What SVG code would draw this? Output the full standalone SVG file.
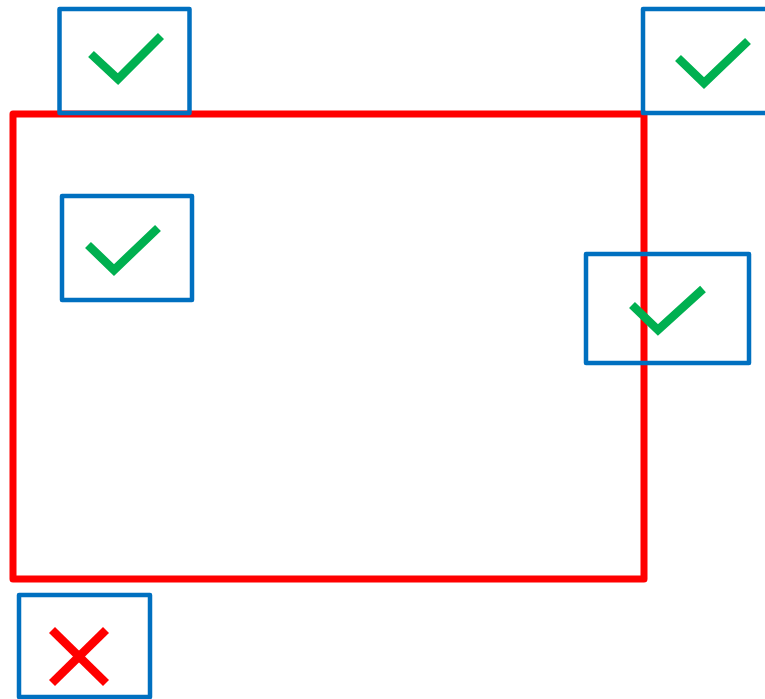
<svg xmlns="http://www.w3.org/2000/svg" width="765" height="699" viewBox="0 0 765 699">
<style>
.frame{fill:none;stroke:#FF0000;stroke-width:7;stroke-linejoin:round}
.box{fill:none;stroke:#0070C0;stroke-width:4.5;stroke-linejoin:round}
.ok{fill:none;stroke:#00B050;stroke-width:8.5;stroke-linejoin:miter;stroke-linecap:butt}
.no{fill:none;stroke:#FF0000;stroke-width:8.5;stroke-linecap:butt}
</style>
<rect width="765" height="699" fill="#FFFFFF"/>
<g id="region"><rect class="frame" x="13" y="114" width="631" height="465"/></g>
<g id="connectors"></g>
<g id="box-top-left">
<rect class="box" x="59.5" y="9" width="130" height="104"/>
<polyline class="ok" points="91,54 118,79 161,36"/>
</g>
<g id="box-top-right">
<rect class="box" x="643" y="9" width="135" height="104"/>
<polyline class="ok" points="678,58 704,83 748,41"/>
</g>
<g id="box-inner">
<rect class="box" x="62" y="196" width="130" height="104"/>
<polyline class="ok" points="88,245 114,270 158,228"/>
</g>
<g id="box-edge">
<rect class="box" x="586" y="254" width="163" height="109"/>
<polyline class="ok" points="632,305 658,330 703,289"/>
</g>
<g id="box-outside">
<rect class="box" x="19" y="595" width="131" height="102"/>
<line class="no" x1="52" y1="630" x2="106" y2="683"/>
<line class="no" x1="106" y1="630" x2="52" y2="683"/>
</g>
</svg>
